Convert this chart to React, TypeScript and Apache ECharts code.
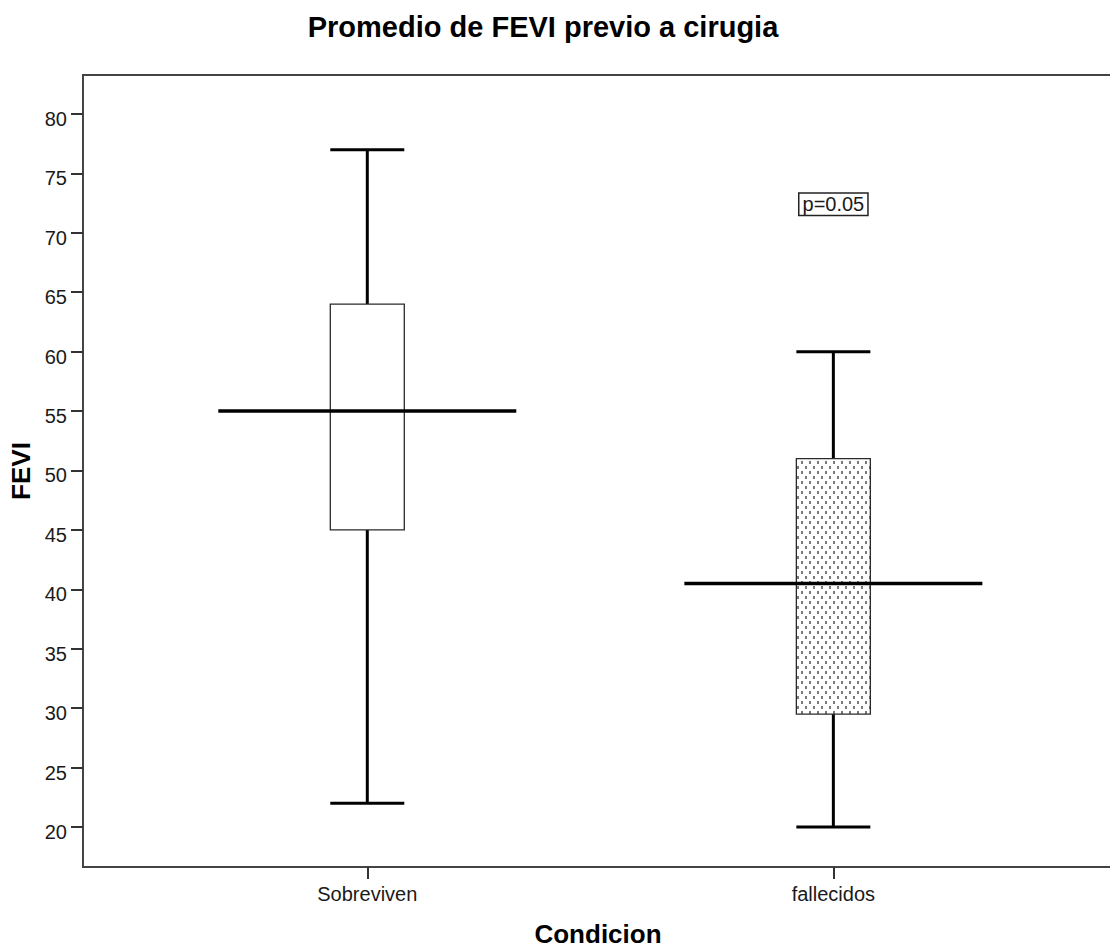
import React, { useEffect, useRef } from "react";
import * as echarts from "echarts";

// Groups on the horizontal axis and where each one sits
const categories = ["Sobreviven", "fallecidos"];
const categoryPositions = [1, 2];

// Box-and-whisker summary of FEVI per group
const whiskerLow = [22, 20];
const quartile1 = [45, 29.5];
const medians = [55, 40.5];
const quartile3 = [64, 51];
const whiskerHigh = [77, 60];

// Vertical axis ticks
const yTicks = [20, 25, 30, 35, 40, 45, 50, 55, 60, 65, 70, 75, 80];

// Significance note placed above the second group
const noteText = "p=0.05";
const notePosition = [2, 72.4];

const FONT = "'Liberation Sans', Arial, sans-serif";

function makeDotPattern(): HTMLCanvasElement {
  const c = document.createElement("canvas");
  c.width = 8;
  c.height = 10;
  const ctx = c.getContext("2d")!;
  ctx.fillStyle = "#ffffff";
  ctx.fillRect(0, 0, 8, 10);
  ctx.fillStyle = "#7a7a7a";
  ctx.fillRect(1, 1, 2, 3);
  ctx.fillRect(5, 6, 2, 3);
  return c;
}

export default function App() {
  const ref = useRef<HTMLDivElement>(null);

  useEffect(() => {
    if (!ref.current) return;
    const chart = echarts.init(ref.current, undefined, { renderer: "svg" });
    const pattern = makeDotPattern();

    const boxData = categoryPositions.map((x, i) => [
      x,
      whiskerLow[i],
      quartile1[i],
      medians[i],
      quartile3[i],
      whiskerHigh[i],
    ]);

    const option: any = {
      animation: false,
      backgroundColor: "#ffffff",
      title: {
        text: "Promedio de FEVI previo a cirugia",
        left: 543,
        top: 12,
        textAlign: "center",
        padding: 0,
        textStyle: {
          fontFamily: FONT,
          fontWeight: "bold",
          fontSize: 29,
          color: "#000",
        },
      },
      grid: {
        left: 83,
        top: 75,
        width: 1030,
        height: 792,
        containLabel: false,
        outerBoundsMode: "none",
        show: true,
        borderColor: "#444",
        borderWidth: 2,
        backgroundColor: "transparent",
      },
      xAxis: {
        type: "value",
        min: 0.39,
        max: 2.6,
        name: "Condicion",
        nameLocation: "middle",
        nameGap: 54,
        nameTextStyle: {
          fontFamily: FONT,
          fontWeight: "bold",
          fontSize: 26,
          color: "#000",
        },
        splitLine: { show: false },
        axisLine: { show: true, lineStyle: { color: "#444", width: 2 } },
        axisTick: {
          show: true,
          customValues: categoryPositions,
          length: 12,
          lineStyle: { color: "#333", width: 2 },
        },
        axisLabel: {
          customValues: categoryPositions,
          margin: 17,
          fontFamily: FONT,
          fontSize: 20,
          color: "#1a1a1a",
          formatter: (v: number) => {
            const i = categoryPositions.indexOf(v);
            return i >= 0 ? categories[i] : "";
          },
        },
      },
      yAxis: {
        type: "value",
        min: 16.634,
        max: 83.28,
        name: "FEVI",
        nameLocation: "middle",
        nameRotate: 90,
        nameGap: 47,
        nameTextStyle: {
          fontFamily: FONT,
          fontWeight: "bold",
          fontSize: 26,
          color: "#000",
        },
        splitLine: { show: false },
        axisLine: { show: true, lineStyle: { color: "#444", width: 2 } },
        axisTick: {
          show: true,
          customValues: yTicks,
          length: 12,
          lineStyle: { color: "#333", width: 2 },
        },
        axisLabel: {
          customValues: yTicks,
          margin: 16,
          verticalAlign: "top",
          lineHeight: 10,
          fontFamily: FONT,
          fontSize: 20,
          color: "#1a1a1a",
        },
      },
      series: [
        {
          type: "custom",
          name: "FEVI",
          data: boxData,
          encode: { x: 0, y: [1, 2, 3, 4, 5] },
          renderItem: (params: any, api: any) => {
            const x = api.value(0);
            const lo = api.coord([x, api.value(1)]);
            const b1 = api.coord([x, api.value(2)]);
            const md = api.coord([x, api.value(3)]);
            const b3 = api.coord([x, api.value(4)]);
            const hi = api.coord([x, api.value(5)]);
            const cx = lo[0];
            const boxHalf = 37;
            const medHalf = 149;
            const whisker = { stroke: "#000", lineWidth: 3 };
            return {
              type: "group",
              children: [
                {
                  type: "line",
                  shape: { x1: cx, y1: b3[1], x2: cx, y2: hi[1] },
                  style: whisker,
                },
                {
                  type: "line",
                  shape: { x1: cx, y1: b1[1], x2: cx, y2: lo[1] },
                  style: whisker,
                },
                {
                  type: "line",
                  shape: { x1: cx - boxHalf, y1: hi[1], x2: cx + boxHalf, y2: hi[1] },
                  style: whisker,
                },
                {
                  type: "line",
                  shape: { x1: cx - boxHalf, y1: lo[1], x2: cx + boxHalf, y2: lo[1] },
                  style: whisker,
                },
                {
                  type: "rect",
                  shape: {
                    x: cx - boxHalf,
                    y: b3[1],
                    width: boxHalf * 2,
                    height: b1[1] - b3[1],
                  },
                  style: {
                    fill:
                      params.dataIndex === 1
                        ? { image: pattern, repeat: "repeat" }
                        : "#ffffff",
                    stroke: "#2a2a2a",
                    lineWidth: 1.3,
                  },
                },
                {
                  type: "line",
                  shape: { x1: cx - medHalf, y1: md[1], x2: cx + medHalf, y2: md[1] },
                  style: { stroke: "#000", lineWidth: 3.5 },
                },
              ],
            };
          },
        },
        {
          type: "custom",
          name: "nota",
          data: [notePosition],
          encode: { x: 0, y: 1 },
          renderItem: (params: any, api: any) => {
            const p = api.coord([api.value(0), api.value(1)]);
            return {
              type: "text",
              x: p[0],
              y: p[1],
              style: {
                text: noteText,
                align: "center",
                verticalAlign: "middle",
                fontFamily: FONT,
                fontSize: 20,
                fill: "#1a1a1a",
                backgroundColor: "#fff",
                borderColor: "#222",
                borderWidth: 1.5,
                padding: [1, 3, 0, 3],
              },
            };
          },
        },
      ],
    };

    chart.setOption(option);
    return () => chart.dispose();
  }, []);

  return (
    <div
      ref={ref}
      style={{ position: "absolute", left: 0, top: 0, width: 1110, height: 949 }}
    />
  );
}
